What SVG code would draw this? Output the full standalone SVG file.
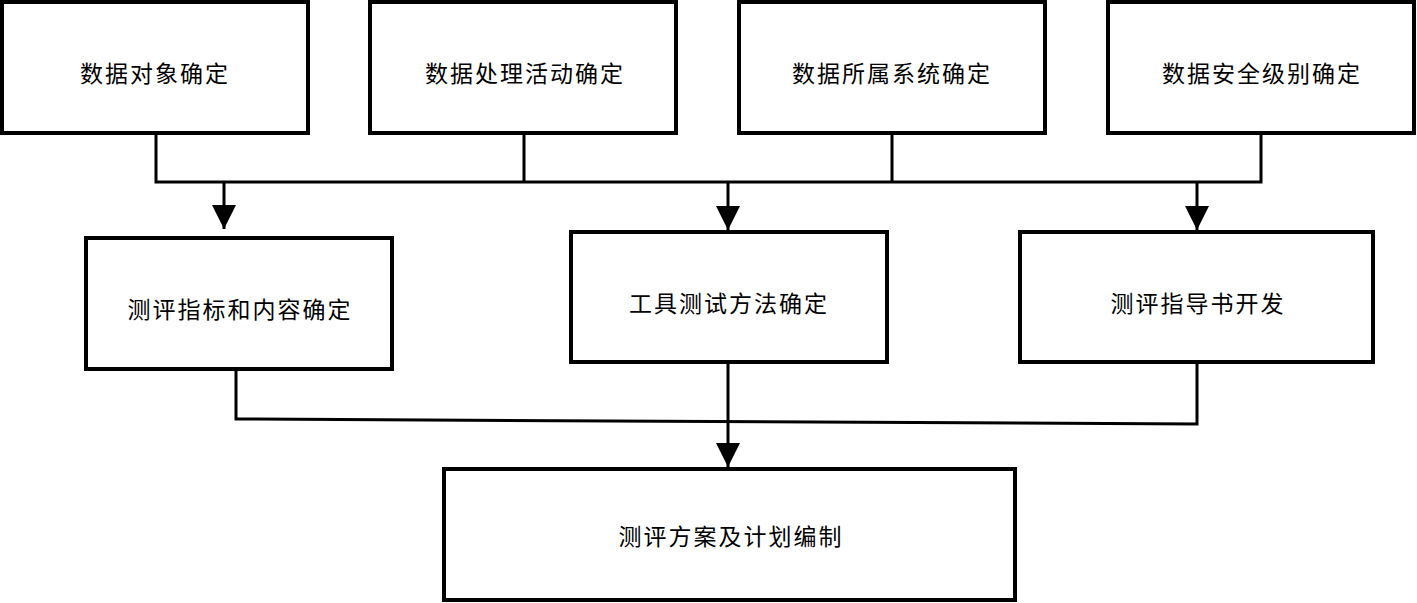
<svg xmlns="http://www.w3.org/2000/svg" width="1417" height="603" viewBox="0 0 1417 603">
<style>
.box{fill:#fff;stroke:#000;stroke-width:4}
.lbl{font-family:"Noto Sans CJK SC","Noto Sans",sans-serif;font-size:23px;fill:#000;text-anchor:middle;dominant-baseline:central;letter-spacing:2px}
.ln{fill:none;stroke:#000;stroke-width:3}
</style>
<defs>
<marker id="ah" markerUnits="userSpaceOnUse" markerWidth="24" markerHeight="24" refX="24" refY="12" orient="auto" viewBox="0 0 24 24">
<path d="M0,0 L24,12 L0,24 z" fill="#000"/>
</marker>
</defs>
<rect width="1417" height="603" fill="#fff"/>
<g id="connectors">
<polyline class="ln" points="156,134 156,182 1261,182 1261,134"/>
<line class="ln" x1="524" y1="134" x2="524" y2="182"/>
<line class="ln" x1="892" y1="134" x2="892" y2="182"/>
<line class="ln" x1="224" y1="182" x2="224" y2="229" marker-end="url(#ah)"/>
<line class="ln" x1="728" y1="182" x2="728" y2="230" marker-end="url(#ah)"/>
<line class="ln" x1="1197" y1="182" x2="1197" y2="230" marker-end="url(#ah)"/>
<polyline class="ln" points="236,370 236,419 1197,424 1197,362"/>
<line class="ln" x1="728" y1="362" x2="728" y2="467" marker-end="url(#ah)"/>
</g>
<g id="n1"><rect class="box" x="2" y="2" width="306" height="131"/><text class="lbl" x="155" y="72">数据对象确定</text></g>
<g id="n2"><rect class="box" x="370" y="2" width="306" height="131"/><text class="lbl" x="525" y="72">数据处理活动确定</text></g>
<g id="n3"><rect class="box" x="739" y="2" width="306" height="131"/><text class="lbl" x="892" y="72">数据所属系统确定</text></g>
<g id="n4"><rect class="box" x="1108" y="2" width="306" height="131"/><text class="lbl" x="1262" y="72">数据安全级别确定</text></g>
<g id="n5"><rect class="box" x="86" y="238" width="306" height="131"/><text class="lbl" x="240" y="308">测评指标和内容确定</text></g>
<g id="n6"><rect class="box" x="571" y="232" width="316" height="130"/><text class="lbl" x="729" y="302">工具测试方法确定</text></g>
<g id="n7"><rect class="box" x="1020" y="232" width="353" height="130"/><text class="lbl" x="1198" y="302">测评指导书开发</text></g>
<g id="n8"><rect class="box" x="444" y="469" width="571" height="131"/><text class="lbl" x="731" y="535">测评方案及计划编制</text></g>
</svg>
